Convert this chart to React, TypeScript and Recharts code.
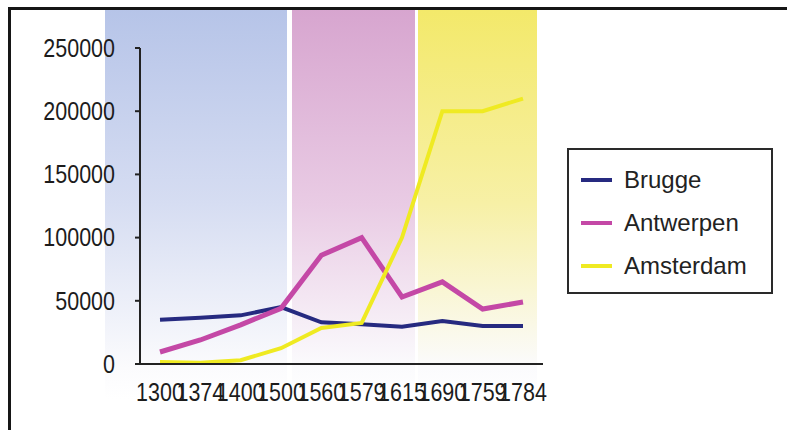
import React from 'react';
import { LineChart, Line, XAxis, YAxis } from 'recharts';

const years = ['1300', '1374', '1400', '1500', '1560', '1579', '1615', '1690', '1759', '1784'];
const brugge = [35000, 36500, 38500, 45000, 33000, 31500, 29500, 34000, 30000, 30000];
const antwerpen = [9500, 19000, 31000, 44000, 86000, 100000, 53000, 65000, 43500, 49000];
const amsterdam = [1500, 1000, 3000, 12500, 28500, 32500, 100000, 200000, 200000, 210000];
const yTicks = [0, 50000, 100000, 150000, 200000, 250000];

const series = [
  { key: 'Brugge', color: '#262a80', width: 4 },
  { key: 'Antwerpen', color: '#c448a6', width: 5 },
  { key: 'Amsterdam', color: '#efea22', width: 4 },
];

const data = years.map((year, i) => ({
  year,
  Brugge: brugge[i],
  Antwerpen: antwerpen[i],
  Amsterdam: amsterdam[i],
}));

// decorative period bands behind the plot
const bands = [
  { left: 105, width: 182, top: '#b6c4e8', mid: '#d6ddf2' },
  { left: 292, width: 123, top: '#d7a5cf', mid: '#e9cbe4' },
  { left: 418, width: 119, top: '#f3e96a', mid: '#f7f0a6' },
];

const tickFont = "'Liberation Sans', Arial, sans-serif";

// narrow, slightly squeezed tick text like the original's condensed face
const NarrowTick = ({ x, y, payload, anchor, dy }: any) => (
  <g transform={`translate(${x},${y})`}>
    <text
      transform="scale(0.86,1)"
      textAnchor={anchor}
      dy={dy}
      fill="#1c1c1c"
      fontSize={25}
      fontFamily={tickFont}
    >
      {payload.value}
    </text>
  </g>
);

export default function App() {
  return (
    <div style={{ position: 'relative', width: 787, height: 430, background: '#fff', overflow: 'hidden' }}>
      <style>{'body{margin:0}'}</style>
      {bands.map((b, i) => (
        <div
          key={i}
          style={{
            position: 'absolute',
            left: b.left,
            top: 9,
            width: b.width,
            height: 390,
            background: `linear-gradient(to bottom, ${b.top} 0%, ${b.mid} 50%, #fbfbfd 92%, #ffffff 100%)`,
          }}
        />
      ))}
      <div
        style={{
          position: 'absolute',
          left: 8,
          top: 7,
          right: -10,
          bottom: -10,
          borderTop: '3px solid #161616',
          borderLeft: '3px solid #161616',
        }}
      />
      <div style={{ position: 'absolute', left: 0, top: 0 }}>
        <LineChart width={787} height={430} data={data} margin={{ top: 48, right: 244, bottom: 0, left: 0 }}>
          <XAxis
            dataKey="year"
            height={66}
            padding={{ left: 20, right: 20 }}
            tickLine={false}
            tickSize={0}
            tickMargin={19}
            interval={0}
            axisLine={{ stroke: '#222', strokeWidth: 2 }}
            tick={<NarrowTick anchor="middle" dy="0.71em" />}
          />
          <YAxis
            width={140}
            domain={[0, 250000]}
            ticks={yTicks}
            interval={0}
            tickSize={5}
            tickMargin={20}
            axisLine={{ stroke: '#222', strokeWidth: 2 }}
            tickLine={{ stroke: '#222', strokeWidth: 2 }}
            tick={<NarrowTick anchor="end" dy="0.355em" />}
          />
          {series.map((s) => (
            <Line
              key={s.key}
              dataKey={s.key}
              type="linear"
              stroke={s.color}
              strokeWidth={s.width}
              dot={false}
              activeDot={false}
              isAnimationActive={false}
            />
          ))}
        </LineChart>
      </div>
      <div
        style={{
          position: 'absolute',
          left: 567,
          top: 148,
          width: 202,
          height: 142,
          border: '2px solid #2a2a2a',
          background: '#fff',
          fontFamily: "'Liberation Sans', Arial, sans-serif",
          fontSize: 24,
          color: '#222',
          boxSizing: 'content-box',
        }}
      >
        {series.map((s, i) => (
          <div
            key={s.key}
            style={{ position: 'absolute', left: 12, top: 16 + i * 43, height: 28, display: 'flex', alignItems: 'center' }}
          >
            <span style={{ display: 'inline-block', width: 31, height: 4, background: s.color, marginRight: 12 }} />
            <span>{s.key}</span>
          </div>
        ))}
      </div>
    </div>
  );
}
